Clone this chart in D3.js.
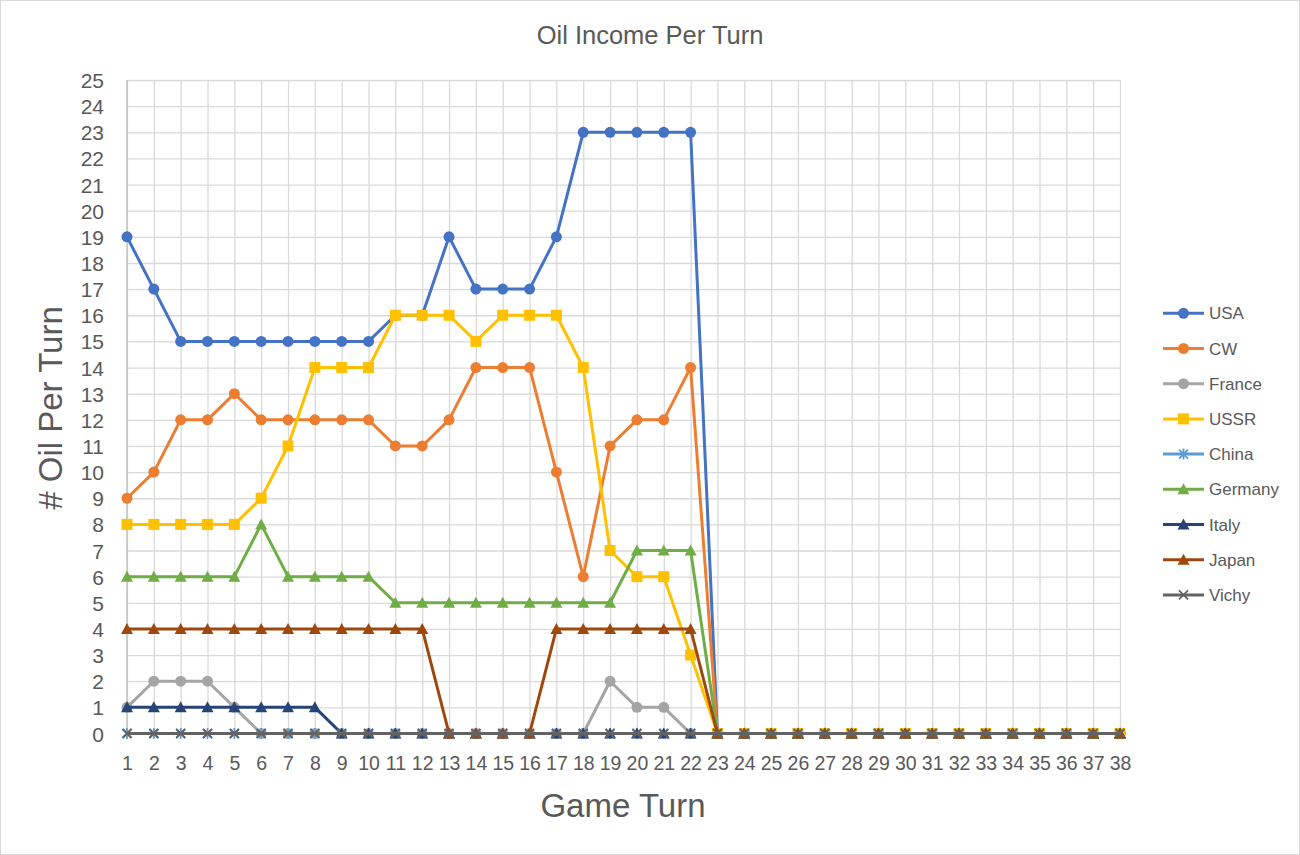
<!DOCTYPE html>
<html><head><meta charset="utf-8">
<script src="https://cdn.jsdelivr.net/npm/d3@7"></script>
<style>
html,body{margin:0;padding:0;background:#fff;}
svg{display:block;font-family:"Liberation Sans",Arial,sans-serif;}
</style></head>
<body>
<svg id="chart" width="1300" height="855"></svg>
<script>
const turns = d3.range(1, 39);
const yTicks = d3.range(0, 26);
const seriesNames = ["USA","CW","France","USSR","China","Germany","Italy","Japan","Vichy"];
const zeros16 = new Array(16).fill(0);
const usa     = [19,17,15,15,15,15,15,15,15,15,16,16,19,17,17,17,19,23,23,23,23,23].concat(zeros16);
const cw      = [9,10,12,12,13,12,12,12,12,12,11,11,12,14,14,14,10,6,11,12,12,14].concat(zeros16);
const france  = [1,2,2,2,1,0,0,0,0,0,0,0,0,0,0,0,0,0,2,1,1,0].concat(zeros16);
const ussr    = [8,8,8,8,8,9,11,14,14,14,16,16,16,15,16,16,16,14,7,6,6,3].concat(zeros16);
const china   = [0,0,0,0,0,0,0,0,0,0,0,0,0,0,0,0,0,0,0,0,0,0].concat(zeros16);
const germany = [6,6,6,6,6,8,6,6,6,6,5,5,5,5,5,5,5,5,5,7,7,7].concat(zeros16);
const italy   = [1,1,1,1,1,1,1,1,0,0,0,0,0,0,0,0,0,0,0,0,0,0].concat(zeros16);
const japan   = [4,4,4,4,4,4,4,4,4,4,4,4,0,0,0,0,4,4,4,4,4,4].concat(zeros16);
const vichy   = [0,0,0,0,0,0,0,0,0,0,0,0,0,0,0,0,0,0,0,0,0,0].concat(zeros16);
const seriesValues = [usa,cw,france,ussr,china,germany,italy,japan,vichy];
const colors = ["#4472C4","#ED7D31","#A5A5A5","#FFC000","#5B9BD5","#70AD47","#264478","#9E480E","#636363"];
const markers = ["circle","circle","circle","square","star","triangle","triangle","triangle","x"];

const svg = d3.select("#chart");
const txt = "#595959";
svg.append("rect").attr("x",0.5).attr("y",0.5).attr("width",1299).attr("height",854)
  .attr("fill","#fff").attr("stroke","#d9d9d9").attr("stroke-width",1);

const x = d3.scalePoint().domain(turns).range([127,1120]);
const y = d3.scaleLinear().domain([0,25]).range([733.5,80]);

// gridlines
const gy = svg.append("g").attr("transform","translate(127,0)")
  .call(d3.axisLeft(y).tickValues(yTicks).tickSize(-(1120-127)).tickFormat(""));
gy.select(".domain").remove();
gy.selectAll("line").attr("stroke","#d9d9d9").attr("stroke-width",1.3);
const gx = svg.append("g").attr("transform","translate(0,80)")
  .call(d3.axisTop(x).tickValues(turns).tickSize(-(733.5-80)).tickFormat(""));
gx.select(".domain").remove();
gx.selectAll("line").attr("stroke","#d9d9d9").attr("stroke-width",1.3);
svg.append("line").attr("x1",127).attr("x2",127).attr("y1",80).attr("y2",733.5)
  .attr("stroke","#bfbfbf").attr("stroke-width",1.3);
svg.append("line").attr("x1",127).attr("x2",1120).attr("y1",733.5).attr("y2",733.5)
  .attr("stroke","#bfbfbf").attr("stroke-width",1.3);

// tick labels
const ay = svg.append("g").attr("transform","translate(104,0)")
  .call(d3.axisLeft(y).tickValues(yTicks).tickSize(0).tickPadding(0));
ay.select(".domain").remove();
ay.selectAll("text").attr("font-size",21).attr("fill",txt).attr("font-family","Liberation Sans, Arial, sans-serif").attr("dy","0.36em");
const ax = svg.append("g").attr("transform","translate(0,770)")
  .call(d3.axisBottom(x).tickValues(turns).tickSize(0).tickPadding(0));
ax.select(".domain").remove();
ax.selectAll("text").attr("font-size",19.5).attr("fill",txt).attr("font-family","Liberation Sans, Arial, sans-serif").attr("dy","0");

// titles
svg.append("text").attr("x",650).attr("y",44).attr("text-anchor","middle")
  .attr("font-size",25.5).attr("fill",txt).text("Oil Income Per Turn");
svg.append("text").attr("x",623).attr("y",817).attr("text-anchor","middle")
  .attr("font-size",33).attr("fill",txt).text("Game Turn");
svg.append("text").attr("transform","translate(62,408) rotate(-90)").attr("text-anchor","middle")
  .attr("font-size",33).attr("fill",txt).text("# Oil Per Turn");

function drawMarker(g, type, color, cx, cy){
  const s = 5.5;
  if(type==="circle"){
    g.append("circle").attr("cx",cx).attr("cy",cy).attr("r",s).attr("fill",color);
  } else if(type==="square"){
    g.append("rect").attr("x",cx-s).attr("y",cy-s).attr("width",2*s).attr("height",2*s).attr("fill",color);
  } else if(type==="triangle"){
    g.append("path").attr("d",`M${cx},${cy-s-0.5}L${cx+s+0.5},${cy+s-0.5}L${cx-s-0.5},${cy+s-0.5}Z`).attr("fill",color);
  } else if(type==="x"){
    const t=4.5;
    g.append("path").attr("d",`M${cx-t},${cy-t}L${cx+t},${cy+t}M${cx-t},${cy+t}L${cx+t},${cy-t}`)
      .attr("stroke",color).attr("stroke-width",1.8).attr("fill","none");
  } else if(type==="star"){
    const t=4.5;
    g.append("path").attr("d",`M${cx-t},${cy-t}L${cx+t},${cy+t}M${cx-t},${cy+t}L${cx+t},${cy-t}M${cx},${cy-t-1}L${cx},${cy+t+1}`)
      .attr("stroke",color).attr("stroke-width",1.8).attr("fill","none");
  }
}

const line = d3.line().x((d,i)=>x(turns[i])).y(d=>y(d));
const plot = svg.append("g");
seriesValues.forEach((vals,si)=>{
  const g = plot.append("g");
  g.append("path").datum(vals).attr("d",line).attr("fill","none")
    .attr("stroke",colors[si]).attr("stroke-width",3).attr("stroke-linejoin","round");
  vals.forEach((v,i)=>drawMarker(g, markers[si], colors[si], x(turns[i]), y(v)));
});

// legend
const leg = svg.append("g");
seriesNames.forEach((name,i)=>{
  const cy = 313.3 + i*35.2;
  const g = leg.append("g");
  g.append("line").attr("x1",1163).attr("x2",1204).attr("y1",cy).attr("y2",cy)
    .attr("stroke",colors[i]).attr("stroke-width",3);
  drawMarker(g, markers[i], colors[i], 1183.5, cy);
  g.append("text").attr("x",1209).attr("y",cy).attr("dy","0.36em")
    .attr("font-size",17).attr("fill",txt).text(name);
});
</script>
</body></html>
